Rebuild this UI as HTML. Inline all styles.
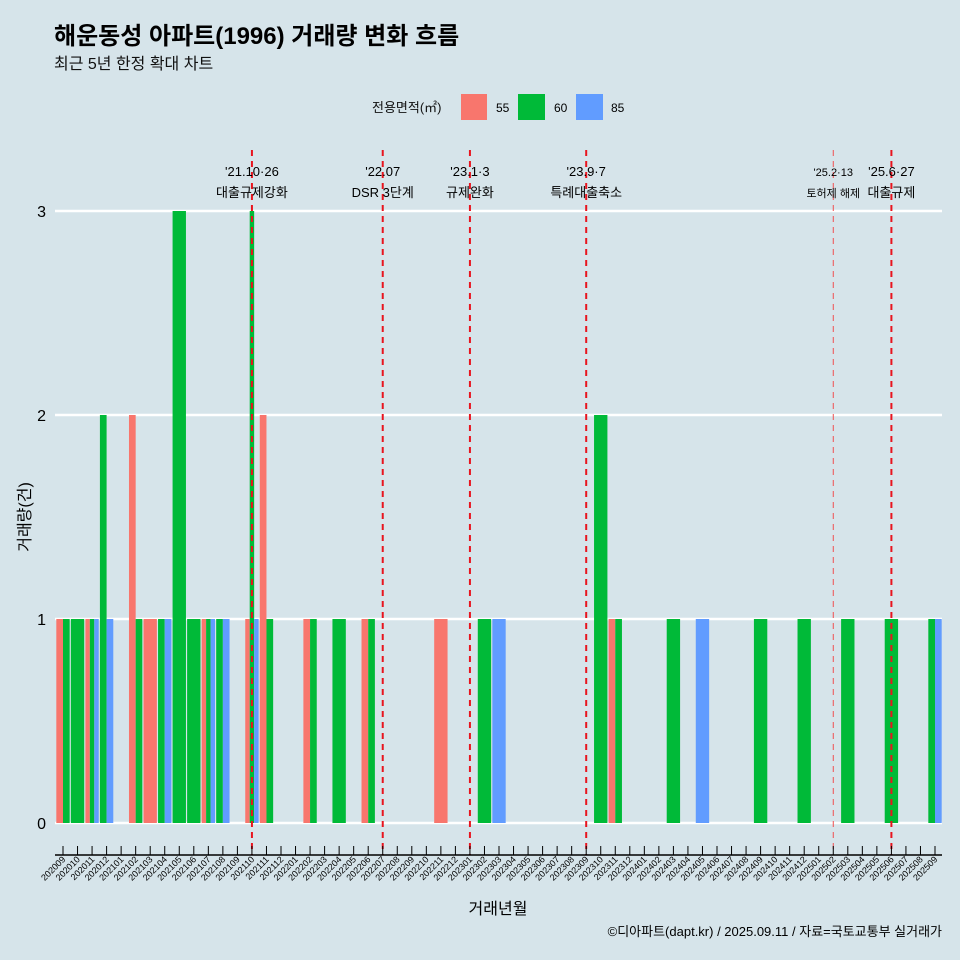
<!DOCTYPE html>
<html><head><meta charset="utf-8">
<style>
body{margin:0;background:#d6e4ea;}
svg{display:block;font-family:"Liberation Sans","Noto Sans CJK KR",sans-serif;}
</style></head>
<body>
<svg id="c" width="960" height="960" viewBox="0 0 960 960">
<rect width="960" height="960" fill="#d6e4ea"/>
<text x="54" y="44" font-size="24" font-weight="bold" fill="#000">해운동성 아파트(1996) 거래량 변화 흐름</text>
<text x="54" y="69" font-size="16" fill="#111">최근 5년 한정 확대 차트</text>
<g>
<text x="372" y="112" font-size="13" fill="#111">전용면적(㎡)</text>
<rect x="461" y="94" width="26" height="26" fill="#f8766d"/>
<text x="496" y="112" font-size="12">55</text>
<rect x="518" y="94" width="27" height="26" fill="#00ba38"/>
<text x="554" y="112" font-size="12">60</text>
<rect x="576" y="94" width="27" height="26" fill="#619cff"/>
<text x="611" y="112" font-size="12">85</text>
</g>
<g id="grid"></g><g id="bars"></g><g id="events"></g><g id="axis"></g>
<text x="30" y="517" font-size="16" transform="rotate(-90 30 517)" text-anchor="middle">거래량(건)</text>
<text x="498" y="914" font-size="16" text-anchor="middle">거래년월</text>
<text x="942" y="936" font-size="13" text-anchor="end">©디아파트(dapt.kr) / 2025.09.11 / 자료=국토교통부 실거래가</text>
</svg>
<script>
const months=[];for(let y=2020,m=9;y*100+m<=202509;){months.push(String(y*100+m));m++;if(m>12){m=1;y++;}}
const yTicks=[0,1,2,3];
const sizes=["55","60","85"];
const colors={"55":"#f8766d","60":"#00ba38","85":"#619cff"};
const s55={"202009":1,"202011":1,"202102":2,"202103":1,"202107":1,"202110":1,"202111":2,"202202":1,"202206":1,"202211":1,"202311":1};
const s60={"202009":1,"202010":1,"202011":1,"202012":2,"202102":1,"202104":1,"202105":3,"202106":1,"202107":1,"202108":1,"202110":3,"202111":1,"202202":1,"202204":1,"202206":1,"202302":1,"202310":2,"202311":1,"202403":1,"202409":1,"202412":1,"202503":1,"202506":1,"202509":1};
const s85={"202011":1,"202012":1,"202104":1,"202107":1,"202108":1,"202110":1,"202303":1,"202405":1,"202509":1};
const series={"55":s55,"60":s60,"85":s85};
const eventMonths=["202110","202207","202301","202309","202502","202506"];
const eventDates=["'21.10·26","'22.07","'23.1·3","'23.9·7","'25.2·13","'25.6·27"];
const eventTexts=["대출규제강화","DSR 3단계","규제완화","특례대출축소","토허제 해제","대출규제"];
const ns="http://www.w3.org/2000/svg";
const X0=63,DX=(935-63)/(months.length-1);
const xs=i=>X0+i*DX;
const ys=v=>823-v*204;
function el(t,a,p){const e=document.createElementNS(ns,t);for(const k in a)e.setAttribute(k,a[k]);document.getElementById(p).appendChild(e);return e;}
yTicks.forEach(v=>{
  const l=el('line',{x1:55,x2:942,y1:ys(v),y2:ys(v),stroke:'#fff','stroke-width':2.5},'grid');
  
  
  const t=el('text',{x:46,y:ys(v)+6,'font-size':16,'text-anchor':'end'},'grid');t.textContent=v;
  
  
});
months.forEach((m,i)=>{
  const present=sizes.filter(s=>series[s][m]);
  const w=DX*0.92/Math.max(present.length,1);
  const start=xs(i)-DX*0.92/2;
  present.forEach((s,j)=>{
    const v=series[s][m];
    const r=el('rect',{x:start+j*w,y:ys(v),width:w,height:ys(0)-ys(v),fill:colors[s]},'bars');
    
    
  });
  const tk=el('line',{x1:xs(i),x2:xs(i),y1:846,y2:855,stroke:'#000','stroke-width':1},'axis');
  
  
  const t=el('text',{x:xs(i)+3,y:860,'font-size':9,'text-anchor':'end',transform:`rotate(-45 ${xs(i)+3} 860)`},'axis');
  t.textContent=m;
  
  
});
const ax=el('line',{x1:55,x2:942,y1:855,y2:855,stroke:'#000','stroke-width':1.5},'axis');


eventMonths.forEach((m,k)=>{
  const x=xs(months.indexOf(m));
  const thin=m==="202502";
  const l=el('line',{x1:x,x2:x,y1:150,y2:855,stroke:thin?'#f05050':'#e8141e','stroke-width':thin?1:2,'stroke-dasharray':'6 5'},'events');
  
  
  const fs=thin?11:13;
  const t1=el('text',{x:x,y:176,'font-size':fs,'text-anchor':'middle'},'events');t1.textContent=eventDates[k];
  
  
  const t2=el('text',{x:x,y:197,'font-size':fs,'text-anchor':'middle'},'events');t2.textContent=eventTexts[k];
  
  
});
</script>
</body></html>
